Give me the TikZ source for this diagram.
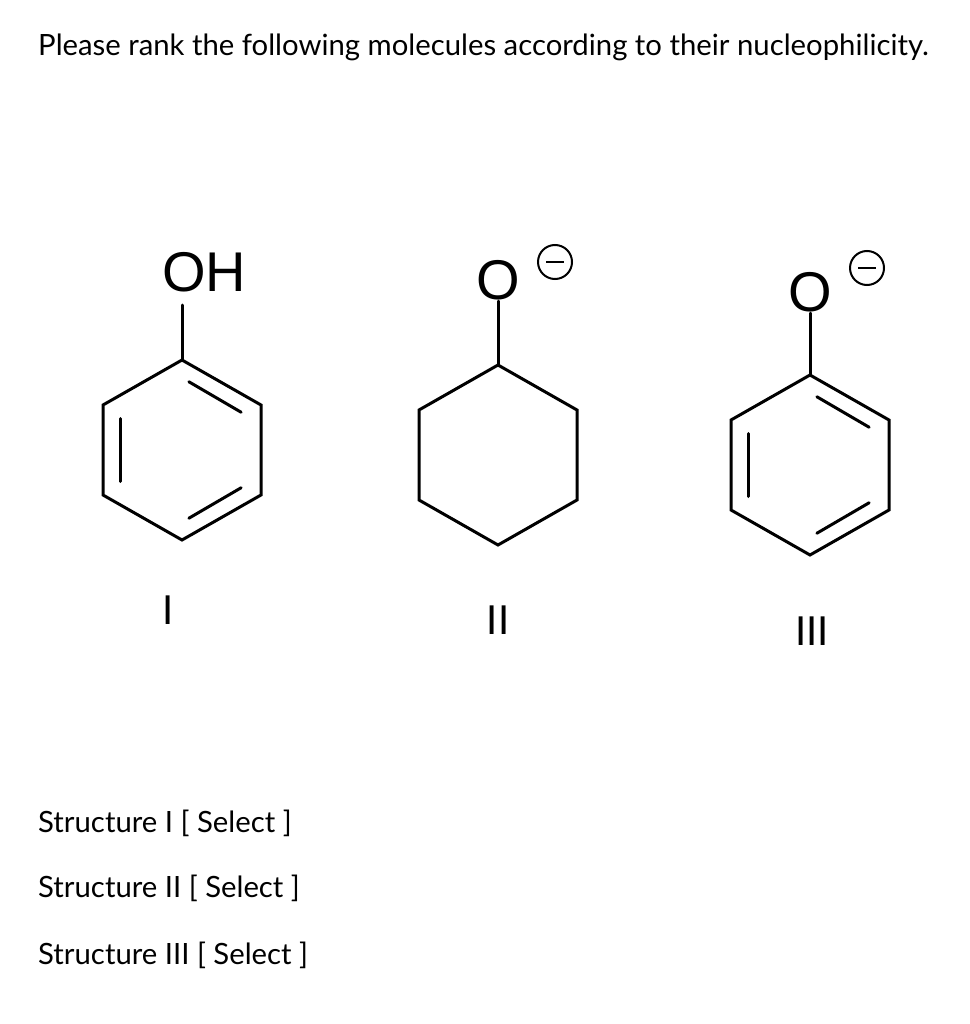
\documentclass[tikz,border=0pt]{standalone}
\usepackage{fontspec}
\setmainfont{Lato}
\newfontfamily\molfont{Liberation Sans}
\usetikzlibrary{calc}
\begin{document}
\begin{tikzpicture}[x=1pt,y=-1pt,
  bond/.style={line width=3pt,line cap=round},
  txt/.style={anchor=west,inner sep=0pt,font=\fontsize{29.3}{32}\selectfont},
  atom/.style={inner sep=1pt,font=\molfont\fontsize{56}{56}\selectfont},
  num/.style={inner sep=0pt,font=\fontsize{40}{40}\selectfont},
  minus/.style={circle,draw,line width=2pt,minimum size=34pt,inner sep=0pt}]
\useasboundingbox (0,0) rectangle (969,1024);
\node[txt] (title) at (38,47) {Please rank the following molecules according to their nucleophilicity.};
\def\hexa#1#2#3{%
  \coordinate (#11) at (#2,#3-90);
  \coordinate (#12) at (#2+79,#3-45);
  \coordinate (#13) at (#2+79,#3+45);
  \coordinate (#14) at (#2,#3+90);
  \coordinate (#15) at (#2-79,#3+45);
  \coordinate (#16) at (#2-79,#3-45);
  \draw[bond] (#11)--(#12)--(#13)--(#14)--(#15)--(#16)--cycle;}
\def\dbl#1{%
  \draw[bond] ($(#11)!0.15!(#12)+(-5,15)$)--($(#12)!0.15!(#11)+(-8,14)$);
  \draw[bond] ($(#13)!0.15!(#14)+(-8,-14)$)--($(#14)!0.15!(#13)+(-5,-15)$);
  \draw[bond] ($(#15)!0.15!(#16)+(17,0)$)--($(#16)!0.15!(#15)+(17,0)$);}
% Molecule I
\hexa{a}{182}{450}
\dbl{a}
\node[atom] (oh) at (204,272) {OH};
\coordinate (a0) at (182,305);
\draw[bond] (a0)--(a1);
% Molecule II
\hexa{b}{498}{455}
\node[atom] (o2) at (498,280) {O};
\node[minus] (m2) at (555,262) {};
\draw[line width=2pt] ($(m2)+(-9,0)$)--($(m2)+(9,0)$);
\draw[bond] (o2.south)--(b1);
% Molecule III
\hexa{c}{810}{465}
\dbl{c}
\node[atom] (o3) at (810,292) {O};
\node[minus] (m3) at (867,268) {};
\draw[line width=2pt] ($(m3)+(-9,0)$)--($(m3)+(9,0)$);
\draw[bond] (o3.south)--(c1);
% labels
\node[num] (l1) at (168,610) {I};
\node[num] (l2) at (498,620) {II};
\node[num] (l3) at (812,631) {III};
\node[txt] (s1) at (38,823) {Structure I [ Select ]};
\node[txt] (s2) at (38,888) {Structure II [ Select ]};
\node[txt] (s3) at (38,955) {Structure III [ Select ]};
\end{tikzpicture}
\end{document}
